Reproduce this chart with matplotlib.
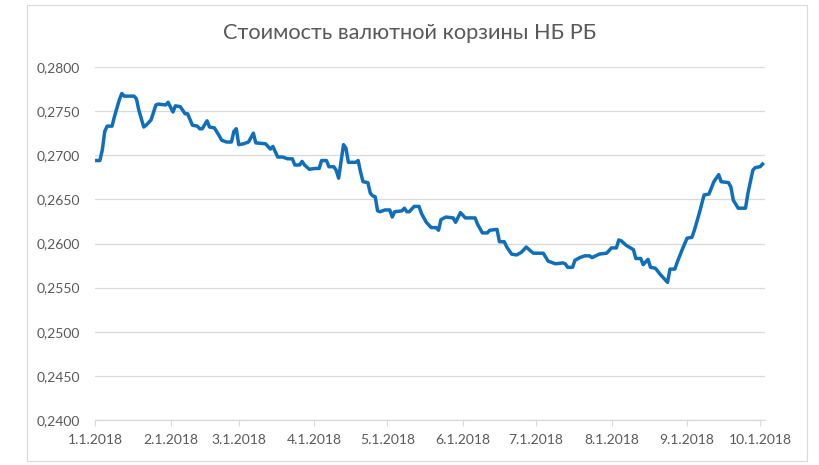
import pandas as pd
import matplotlib
matplotlib.use("Agg")
import matplotlib.pyplot as plt
import matplotlib.dates as mdates
from matplotlib.patches import Rectangle
from matplotlib.ticker import FuncFormatter, MultipleLocator

plt.rcParams['font.family'] = ['Lato', 'DejaVu Sans']

# Basket value (month-day, 2018)
dates = [
    "01-01", "01-03", "01-04", "01-05", "01-06", "01-08", "01-09", "01-11", "01-12", "01-13",
    "01-16", "01-17", "01-18", "01-19", "01-21", "01-22", "01-24", "01-26", "01-27", "01-30",
    "01-31", "02-02", "02-03", "02-05", "02-07", "02-08", "02-10", "02-12", "02-13", "02-14",
    "02-16", "02-17", "02-19", "02-21", "02-22", "02-24", "02-26", "02-27", "02-28", "03-01",
    "03-03", "03-05", "03-07", "03-08", "03-12", "03-13", "03-14", "03-15", "03-17", "03-19",
    "03-21", "03-23", "03-24", "03-26", "03-27", "03-28", "03-30", "04-01", "04-03", "04-04",
    "04-06", "04-07", "04-09", "04-10", "04-11", "04-13", "04-14", "04-15", "04-18", "04-19",
    "04-20", "04-21", "04-23", "04-24", "04-25", "04-26", "04-27", "04-28", "04-30", "05-02",
    "05-03", "05-04", "05-07", "05-08", "05-09", "05-10", "05-12", "05-14", "05-15", "05-17",
    "05-19", "05-21", "05-22", "05-23", "05-25", "05-28", "05-29", "05-31", "06-02", "06-06",
    "06-07", "06-09", "06-11", "06-12", "06-15", "06-16", "06-18", "06-19", "06-21", "06-23",
    "06-25", "06-27", "06-29", "06-30", "07-04", "07-06", "07-08", "07-09", "07-12", "07-13",
    "07-14", "07-16", "07-17", "07-19", "07-21", "07-23", "07-24", "07-27", "07-30", "08-01",
    "08-03", "08-04", "08-05", "08-07", "08-10", "08-11", "08-13", "08-14", "08-16", "08-17",
    "08-19", "08-21", "08-24", "08-25", "08-27", "08-28", "08-30", "09-01", "09-03", "09-04",
    "09-06", "09-08", "09-10", "09-12", "09-14", "09-15", "09-18", "09-19", "09-20", "09-22",
    "09-25", "09-26", "09-28", "09-29", "10-01", "10-02",
]
values = [
    0.2694, 0.2694, 0.2706, 0.2727, 0.2733, 0.2733, 0.2744, 0.2763, 0.2770, 0.2767,
    0.2767, 0.2767, 0.2764, 0.2751, 0.2732, 0.2734, 0.2740, 0.2757, 0.2758, 0.2757,
    0.2760, 0.2749, 0.2756, 0.2755, 0.2747, 0.2747, 0.2734, 0.2733, 0.2730, 0.2730,
    0.2739, 0.2732, 0.2731, 0.2722, 0.2717, 0.2715, 0.2715, 0.2727, 0.2730, 0.2712,
    0.2713, 0.2715, 0.2725, 0.2714, 0.2713, 0.2710, 0.2707, 0.2710, 0.2698, 0.2698,
    0.2696, 0.2696, 0.2689, 0.2689, 0.2693, 0.2689, 0.2684, 0.2685, 0.2685, 0.2694,
    0.2694, 0.2687, 0.2687, 0.2683, 0.2674, 0.2712, 0.2708, 0.2692, 0.2692, 0.2694,
    0.2681, 0.2670, 0.2669, 0.2657, 0.2654, 0.2653, 0.2637, 0.2636, 0.2638, 0.2638,
    0.2630, 0.2636, 0.2637, 0.2640, 0.2636, 0.2636, 0.2642, 0.2642, 0.2634, 0.2624,
    0.2618, 0.2618, 0.2615, 0.2627, 0.2630, 0.2629, 0.2624, 0.2635, 0.2629, 0.2629,
    0.2622, 0.2612, 0.2612, 0.2615, 0.2616, 0.2602, 0.2602, 0.2596, 0.2588, 0.2587,
    0.2590, 0.2596, 0.2591, 0.2589, 0.2589, 0.2580, 0.2578, 0.2577, 0.2578, 0.2577,
    0.2573, 0.2573, 0.2581, 0.2584, 0.2586, 0.2586, 0.2584, 0.2588, 0.2589, 0.2595,
    0.2595, 0.2604, 0.2603, 0.2598, 0.2593, 0.2583, 0.2583, 0.2576, 0.2582, 0.2573,
    0.2572, 0.2565, 0.2556, 0.2571, 0.2571, 0.2579, 0.2593, 0.2606, 0.2607, 0.2615,
    0.2634, 0.2655, 0.2656, 0.2670, 0.2678, 0.2670, 0.2669, 0.2664, 0.2649, 0.2640,
    0.2640, 0.2657, 0.2683, 0.2686, 0.2687, 0.2690,
]

x = pd.to_datetime(["2018-" + d for d in dates])

fig = plt.figure(figsize=(8.2, 4.65), dpi=100)
W, H = 820, 465
ax = fig.add_axes([95 / W, 1 - 420 / H, (765 - 95) / W, (420 - 67) / H])

# outer chart border like Excel
fig.patches.append(Rectangle((27 / W, 1 - 461 / H), (807 - 27) / W, (461 - 5) / H,
                             transform=fig.transFigure, fill=False,
                             edgecolor='#d9d9d9', linewidth=0.8))

ax.plot(x, values, color='#0f6fba', linewidth=2.5, solid_joinstyle='round')

ax.set_ylim(0.24, 0.28)
ax.set_xlim(pd.Timestamp("2018-01-01"), pd.Timestamp("2018-10-03"))
ax.yaxis.set_major_locator(MultipleLocator(0.005))
ax.yaxis.set_major_formatter(FuncFormatter(lambda v, p: f"{v:.4f}".replace('.', ',')))

ax.xaxis.set_major_locator(mdates.MonthLocator())
ax.xaxis.set_major_formatter(FuncFormatter(
    lambda v, p: f"{mdates.num2date(v).month}.{mdates.num2date(v).day}.{mdates.num2date(v).year}"))

ax.grid(axis='y', color='#d9d9d9', linewidth=0.9)
ax.set_axisbelow(True)
for s in ['top', 'right', 'left']:
    ax.spines[s].set_visible(False)
ax.spines['bottom'].set_color('#d9d9d9')
ax.spines['bottom'].set_linewidth(0.9)

ax.tick_params(axis='y', length=0, pad=11, labelsize=10, labelcolor='#595959')
ax.tick_params(axis='x', length=4, color='#d9d9d9', pad=6, labelsize=10, labelcolor='#595959')

fig.text(0.499, 0.929, "Стоимость валютной корзины НБ РБ", ha='center', va='center',
         fontsize=15.7, color='#595959')

fig.savefig("out.png", dpi=100, facecolor='white')
